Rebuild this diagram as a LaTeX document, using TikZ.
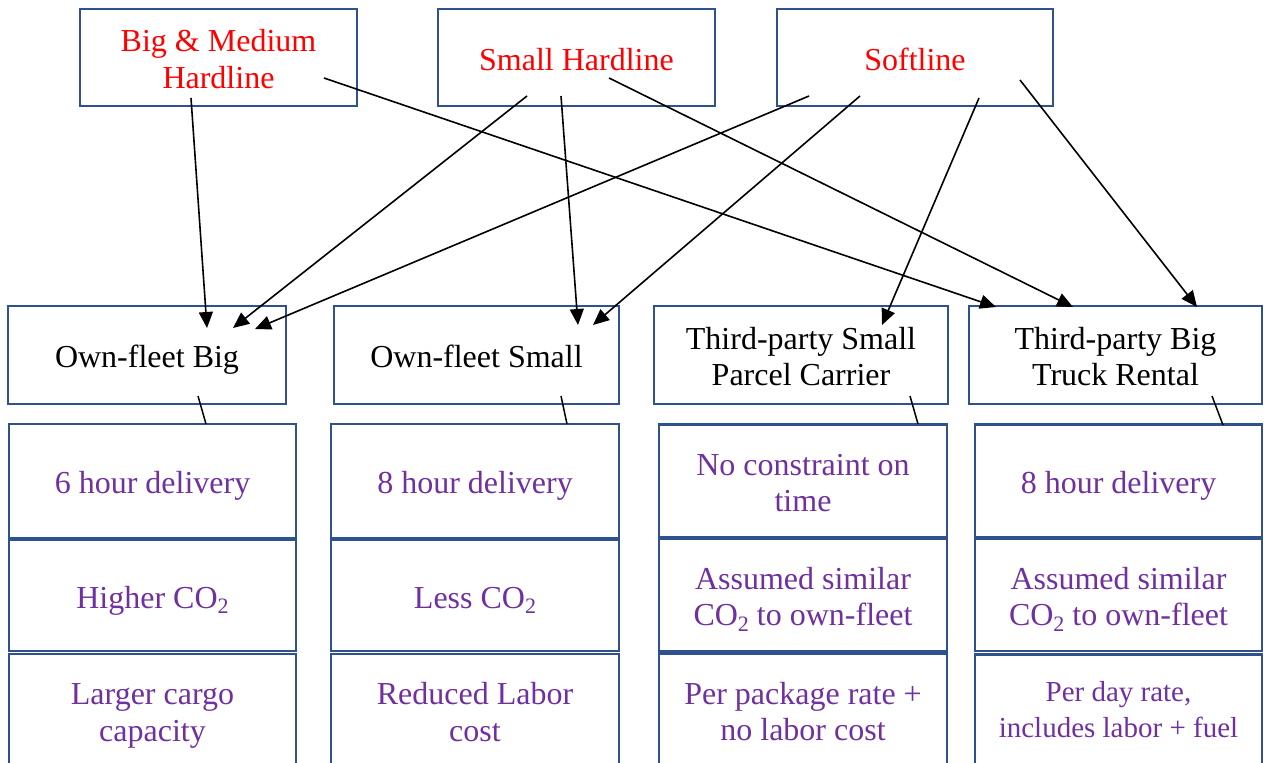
\documentclass[tikz,border=0pt]{standalone}
\usepackage{fontspec}
\setmainfont{Liberation Serif}
\usetikzlibrary{arrows.meta}
\definecolor{boxblue}{HTML}{2F528F}
\definecolor{txtpurple}{HTML}{7030A0}
\newcommand{\cotwo}{CO\raisebox{-0.18em}{\fontsize{22}{22}\selectfont 2}}
\newcommand{\topst}{\rule{0pt}{33pt}}
\newcommand{\botst}{\rule[-8pt]{0pt}{8pt}}
\newcommand{\botstdeep}{\rule[-16pt]{0pt}{16pt}}
\begin{document}
\begin{tikzpicture}[x=1pt,y=-1pt,
  box/.style={draw=boxblue, line width=2.5pt, fill=white, rectangle, inner sep=0pt, align=center,
    font=\fontsize{32}{36.5}\selectfont},
  topbox/.style={box, text=red, minimum width=277pt, minimum height=97pt},
  midbox/.style={box, text=black, minimum height=98pt},
  attr/.style={box, text=txtpurple, minimum width=287pt},
  arr/.style={line width=1.6pt, -{Triangle[length=16pt,width=14pt]}},
  link/.style={line width=1.5pt}]
\useasboundingbox (0,0) rectangle (1269,763);
% top categories
\node[topbox] (A) at (218.5,57.5) {\topst Big \& Medium\\Hardline\botst};
\node[topbox] (B) at (576.5,57.5) {\topst Small Hardline\botst};
\node[topbox, minimum width=276pt] (C) at (915,57.5) {\topst Softline\botst};
% delivery options
\node[midbox, minimum width=278pt] (M1) at (147,355) {\topst Own-fleet Big\botst};
\node[midbox, minimum width=285pt] (M2) at (476.5,355) {\topst Own-fleet Small\botst};
\node[midbox, minimum width=294pt] (M3) at (801,355) {\topst Third-party Small\\Parcel Carrier\botst};
\node[midbox, minimum width=293pt] (M4) at (1115.5,355) {\topst Third-party Big\\Truck Rental\botst};
% attributes column 1
\node[attr, minimum height=114pt] (a11) at (152.5,481) {\topst 6 hour delivery\botst};
\node[attr, minimum height=111pt] (a12) at (152.5,595.5) {\topst Higher \cotwo\botst};
\node[attr, minimum height=113pt] (a13) at (152.5,710.5) {\topst Larger cargo\\capacity\botst};
% column 2
\node[attr, minimum width=288pt, minimum height=114pt] (a21) at (475,481) {\topst 8 hour delivery\botst};
\node[attr, minimum width=288pt, minimum height=111pt] (a22) at (475,595.5) {\topst Less \cotwo\botst};
\node[attr, minimum width=288pt, minimum height=113pt] (a23) at (475,710.5) {\topst Reduced Labor\\cost\botst};
% column 3
\node[attr, minimum width=288pt, minimum height=113pt] (a31) at (803,481) {\topst No constraint on\\time\botst};
\node[attr, minimum width=288pt, minimum height=112pt] (a32) at (803,595) {\topst Assumed similar\\\cotwo{} to own-fleet\botst};
\node[attr, minimum width=288pt, minimum height=113pt] (a33) at (803,710) {\topst Per package rate +\\no labor cost\botst};
% column 4
\node[attr, minimum height=113pt] (a41) at (1118.5,481) {\topst 8 hour delivery\botst};
\node[attr, minimum height=112pt] (a42) at (1118.5,595) {\topst Assumed similar\\\cotwo{} to own-fleet\botst};
\node[attr, minimum height=113pt, font=\fontsize{29}{36}\selectfont] (a43) at (1118.5,711) {\topst Per day rate,\\includes labor + fuel\botstdeep};
% arrow start/end points
\coordinate (sA1) at (191,98);  \coordinate (tA1) at (207,328);
\coordinate (sA2) at (324,78);  \coordinate (tA2) at (996,307);
\coordinate (sB1) at (527,96);  \coordinate (tB1) at (233,328);
\coordinate (sB2) at (561,96);  \coordinate (tB2) at (578,325);
\coordinate (sB3) at (609,78);  \coordinate (tB3) at (1073,307);
\coordinate (sC1) at (809,96);  \coordinate (tC1) at (255,329);
\coordinate (sC2) at (860,96);  \coordinate (tC2) at (593,325);
\coordinate (sC3) at (979,98);  \coordinate (tC3) at (882,325);
\coordinate (sC4) at (1020,80); \coordinate (tC4) at (1197,307);
\draw[arr] (sA1) -- (tA1);
\draw[arr] (sA2) -- (tA2);
\draw[arr] (sB1) -- (tB1);
\draw[arr] (sB2) -- (tB2);
\draw[arr] (sB3) -- (tB3);
\draw[arr] (sC1) -- (tC1);
\draw[arr] (sC2) -- (tC2);
\draw[arr] (sC3) -- (tC3);
\draw[arr] (sC4) -- (tC4);
% links from options to attribute columns
\coordinate (l1s) at (198,396);  \coordinate (l1e) at (206,424);
\coordinate (l2s) at (561,396);  \coordinate (l2e) at (567,424);
\coordinate (l3s) at (910,396);  \coordinate (l3e) at (918,424);
\coordinate (l4s) at (1212,396); \coordinate (l4e) at (1223,425);
\draw[link] (l1s) -- (l1e);
\draw[link] (l2s) -- (l2e);
\draw[link] (l3s) -- (l3e);
\draw[link] (l4s) -- (l4e);
\end{tikzpicture}
\end{document}
